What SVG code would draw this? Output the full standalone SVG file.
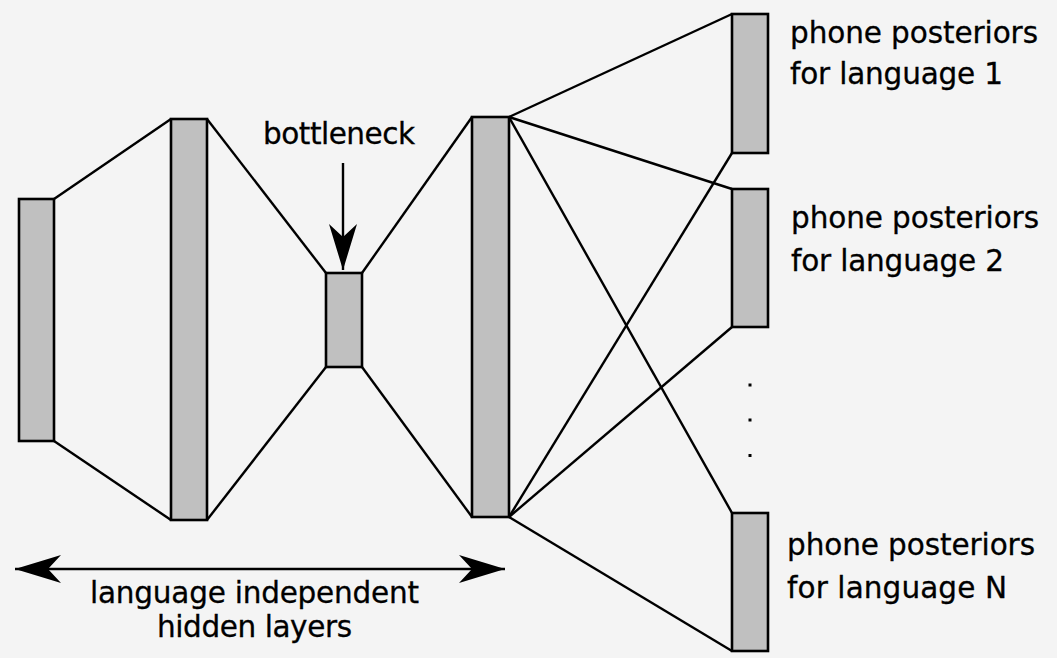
<svg xmlns="http://www.w3.org/2000/svg" width="1057" height="658" viewBox="0 0 1057 658">
<style>
.layer{fill:#c0c0c0;stroke:#000;stroke-width:2.6}
.conn{stroke:#000;stroke-width:2.4;fill:none}
.lbl{font-family:"DejaVu Sans","Liberation Sans",sans-serif;font-size:29.5px;fill:#000;stroke:#000;stroke-width:0.3}
</style>
<defs>
<marker id="barb" viewBox="-50 -16 52 32" refX="0" refY="0" markerUnits="userSpaceOnUse" markerWidth="52" markerHeight="32" orient="auto-start-reverse">
<path d="M0,0 L-46,-14 L-33,0 L-46,14 Z" fill="#000"/>
</marker>
</defs>
<rect width="1057" height="658" fill="#f4f4f4"/>
<g id="connectors">
<line class="conn" x1="54" y1="199" x2="171" y2="119"/>
<line class="conn" x1="54" y1="441" x2="171" y2="520"/>
<line class="conn" x1="207" y1="119" x2="326" y2="273"/>
<line class="conn" x1="207" y1="520" x2="326" y2="367"/>
<line class="conn" x1="362" y1="273" x2="472" y2="117"/>
<line class="conn" x1="362" y1="367" x2="472" y2="517"/>
<line class="conn" x1="509" y1="117" x2="732" y2="14"/>
<line class="conn" x1="509" y1="117" x2="732" y2="189"/>
<line class="conn" x1="509" y1="117" x2="732" y2="513"/>
<line class="conn" x1="509" y1="517" x2="732" y2="153"/>
<line class="conn" x1="509" y1="517" x2="732" y2="327"/>
<line class="conn" x1="509" y1="517" x2="732" y2="651"/>
<line class="conn" x1="343" y1="163" x2="343" y2="270" marker-end="url(#barb)"/>
<line class="conn" x1="15" y1="569" x2="505" y2="569" marker-start="url(#barb)" marker-end="url(#barb)"/>
</g>
<g id="input"><rect class="layer" x="19" y="199" width="35" height="242"/></g>
<g id="hidden1"><rect class="layer" x="171" y="119" width="36" height="401"/></g>
<g id="bottleneck"><rect class="layer" x="326" y="273" width="36" height="94"/>
<text class="lbl" x="263" y="144" textLength="152" lengthAdjust="spacing">bottleneck</text></g>
<g id="hidden3"><rect class="layer" x="472" y="117" width="37" height="400"/></g>
<g id="out1"><rect class="layer" x="732" y="14" width="36" height="139"/>
<text class="lbl" x="790" y="43" textLength="248" lengthAdjust="spacing">phone posteriors</text>
<text class="lbl" x="790" y="84" textLength="213" lengthAdjust="spacing">for language 1</text></g>
<g id="out2"><rect class="layer" x="732" y="189" width="36" height="138"/>
<text class="lbl" x="791" y="228" textLength="248" lengthAdjust="spacing">phone posteriors</text>
<text class="lbl" x="791" y="271" textLength="213" lengthAdjust="spacing">for language 2</text></g>
<g id="dots" fill="#000">
<rect x="748.5" y="383.5" width="3" height="3"/>
<rect x="748.5" y="418.5" width="3" height="3"/>
<rect x="748.5" y="454" width="3" height="3"/>
</g>
<g id="outN"><rect class="layer" x="732" y="513" width="36" height="138"/>
<text class="lbl" x="787" y="555" textLength="248" lengthAdjust="spacing">phone posteriors</text>
<text class="lbl" x="787" y="598" textLength="220" lengthAdjust="spacing">for language N</text></g>
<g id="shared-label">
<text class="lbl" x="90" y="603" textLength="329" lengthAdjust="spacing">language independent</text>
<text class="lbl" x="157" y="637" textLength="195" lengthAdjust="spacing">hidden layers</text>
</g>
</svg>
